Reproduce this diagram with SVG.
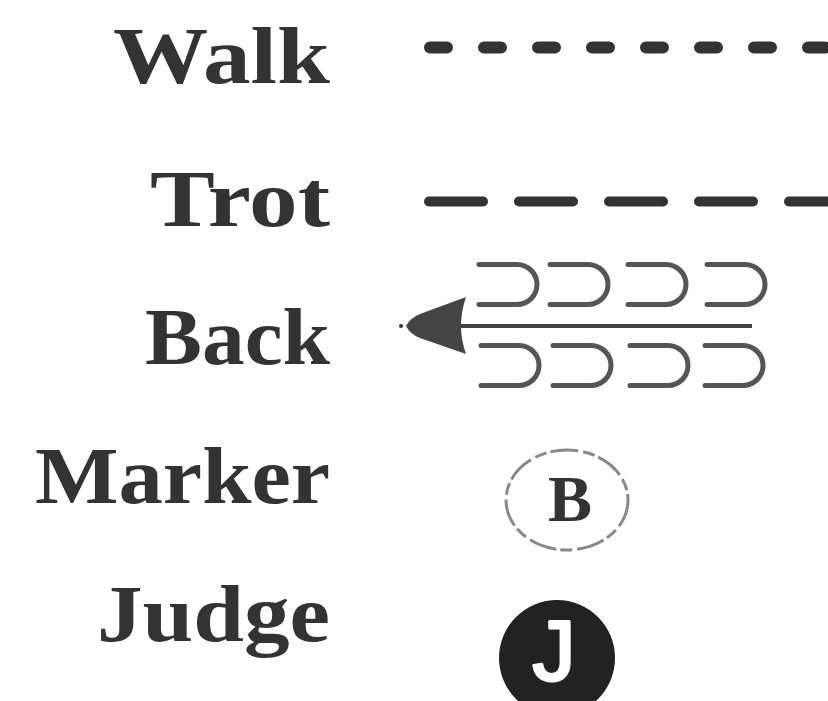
<svg xmlns="http://www.w3.org/2000/svg" width="828" height="701" viewBox="0 0 828 701">
<style>
.lbl{font-family:"Liberation Serif","DejaVu Serif",serif;font-weight:bold;font-size:80px;fill:#333;text-anchor:end}
.cup{fill:none;stroke:#555;stroke-width:5;stroke-linecap:round}
</style>
<defs>
<path id="cup" class="cup" d="M0,0 H38 A20,20 0 0 1 38,40 H0"/>
</defs>
<rect width="828" height="701" fill="#fff"/>
<g id="labels">
<text class="lbl" x="330" y="83" textLength="217" lengthAdjust="spacingAndGlyphs">Walk</text>
<text class="lbl" x="330" y="226" textLength="180" lengthAdjust="spacingAndGlyphs">Trot</text>
<text class="lbl" x="330" y="364" textLength="185" lengthAdjust="spacingAndGlyphs">Back</text>
<text class="lbl" x="330" y="503" textLength="295" lengthAdjust="spacingAndGlyphs">Marker</text>
<text class="lbl" x="330" y="641" textLength="233" lengthAdjust="spacingAndGlyphs">Judge</text>
</g>
<g id="connectors">
<g id="walk"><line x1="430" y1="47.5" x2="860" y2="47.5" stroke="#333" stroke-width="12" stroke-linecap="round" stroke-dasharray="17 37"/></g>
<g id="trot"><line x1="429" y1="201.5" x2="860" y2="201.5" stroke="#333" stroke-width="10" stroke-linecap="round" stroke-dasharray="54 36"/></g>
<g id="back">
<line x1="460" y1="326" x2="752" y2="326" stroke="#444" stroke-width="4"/>
<path d="M406,326 Q410,318 420,314 L466,297 Q456,326 466,354 L420,338 Q410,334 406,326 Z" fill="#444"/>
<circle cx="401" cy="326" r="2" fill="#333"/>
<use href="#cup" x="479" y="264.5"/>
<use href="#cup" x="550" y="264.5"/>
<use href="#cup" x="628" y="264.5"/>
<use href="#cup" x="707" y="264.5"/>
<use href="#cup" x="481" y="345.5"/>
<use href="#cup" x="553" y="345.5"/>
<use href="#cup" x="630" y="345.5"/>
<use href="#cup" x="705" y="345.5"/>
</g>
</g>
<g id="marker">
<ellipse cx="567" cy="500" rx="61" ry="50" fill="none" stroke="#888" stroke-width="3" stroke-dasharray="28 5 12 4"/>
<text x="570" y="521" font-family="Liberation Serif,serif" font-weight="bold" font-size="66" fill="#333" text-anchor="middle">B</text>
</g>
<g id="judge">
<circle cx="557" cy="658" r="58" fill="#222"/>
<text x="554" y="680" font-family="'Liberation Sans',Arial,sans-serif" font-size="86" fill="#fff" stroke="#fff" stroke-width="3" stroke-linejoin="round" text-anchor="middle">J</text>
</g>
</svg>
